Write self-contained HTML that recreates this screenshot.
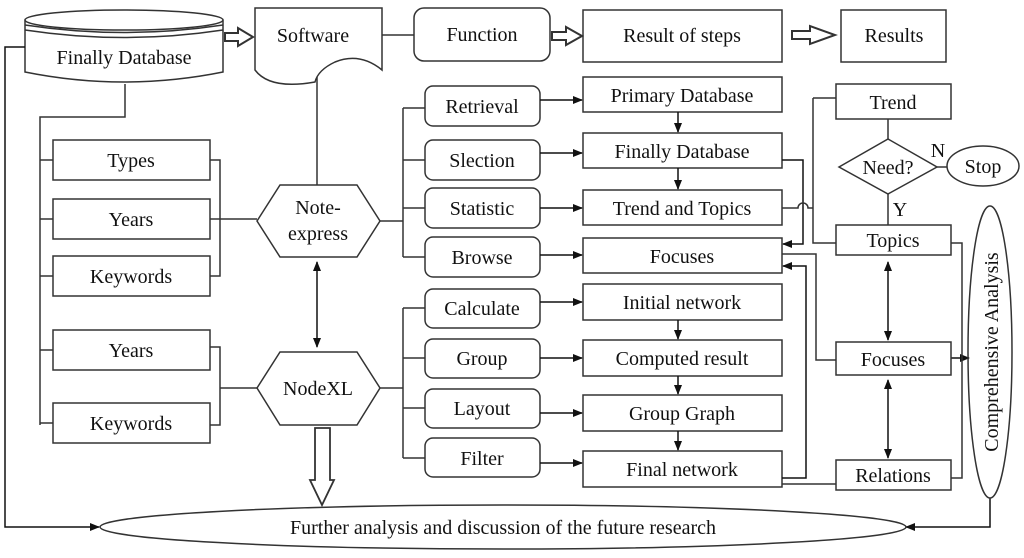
<!DOCTYPE html>
<html><head><meta charset="utf-8"><style>
html,body{margin:0;padding:0;background:#fff;}
svg{display:block;}
text{font-family:"Liberation Serif",serif;font-size:20px;fill:#111;}
</style></head><body>
<svg width="1024" height="558" viewBox="0 0 1024 558" xmlns="http://www.w3.org/2000/svg">
<defs>
<marker id="a" markerWidth="10" markerHeight="8" refX="9" refY="4" orient="auto" markerUnits="userSpaceOnUse"><path d="M0,0 L10,4 L0,8 z" fill="#111"/></marker>
<marker id="as" markerWidth="10" markerHeight="8" refX="1" refY="4" orient="auto" markerUnits="userSpaceOnUse"><path d="M10,0 L0,4 L10,8 z" fill="#111"/></marker>
</defs>
<g fill="none" stroke="#333" stroke-width="1.5">
<path d="M25,20 L25,72 Q124,92 223,72 L223,20"/>
<ellipse cx="124" cy="20" rx="99" ry="10" fill="#fff"/>
<path d="M25,25 Q124,40 223,25 M25,30 Q124,45 223,30"/>
<path d="M255,8 L382,8 L382,70 Q360,52 335,62 Q318,70 315,82 Q270,90 255,70 Z"/>
<rect x="414" y="8" width="136" height="53" rx="10"/>
<rect x="583" y="10" width="199" height="52"/>
<rect x="841" y="10" width="105" height="52"/>
<path d="M225,33 L238,33 L238,28 L253,37 L238,46 L238,41 L225,41 Z" stroke-width="2"/>
<path d="M552,32 L566,32 L566,27 L582,36 L566,45 L566,40 L552,40 Z" stroke-width="2"/>
<path d="M792,31 L810,31 L810,26 L835,35 L810,44 L810,39 L792,39 Z" stroke-width="2"/>
<line x1="382" y1="35" x2="414" y2="35"/>
<path d="M125,84 L125,117 L40,117 L40,425"/>
<rect x="53" y="140" width="157" height="40"/>
<rect x="53" y="199" width="157" height="40"/>
<rect x="53" y="256" width="157" height="40"/>
<rect x="53" y="330" width="157" height="40"/>
<rect x="53" y="403" width="157" height="40"/>
<path d="M40,160 L53,160 M40,219 L53,219 M40,276 L53,276 M40,350 L53,350 M40,423 L53,423"/>
<path d="M210,160 L220,160 L220,276 L210,276 M210,219 L257,219"/>
<path d="M210,347 L220,347 L220,425 L210,425 M220,388 L257,388"/>
<polygon points="257,221 280,185 357,185 380,221 357,257 280,257"/>
<polygon points="257,388 280,352 357,352 380,388 357,425 280,425"/>
<line x1="317" y1="77" x2="317" y2="185"/>
<line x1="317" y1="262" x2="317" y2="347" marker-start="url(#as)" marker-end="url(#a)" stroke="#111"/>
<path d="M315,428 L330,428 L330,480 L334,480 L322,505 L310,480 L315,480 Z" stroke-width="1.8"/>
<path d="M380,221 L403,221 M403,108 L403,257 M403,108 L425,108 M403,160 L425,160 M403,208 L425,208 M403,257 L425,257"/>
<path d="M380,388 L403,388 M403,308 L403,458 M403,308 L425,308 M403,358 L425,358 M403,408 L425,408 M403,458 L425,458"/>
<rect x="425" y="86" width="115" height="40" rx="8"/>
<rect x="425" y="140" width="115" height="40" rx="8"/>
<rect x="425" y="188" width="115" height="40" rx="8"/>
<rect x="425" y="237" width="115" height="40" rx="8"/>
<rect x="425" y="289" width="115" height="39" rx="8"/>
<rect x="425" y="339" width="115" height="39" rx="8"/>
<rect x="425" y="389" width="115" height="39" rx="8"/>
<rect x="425" y="438" width="115" height="39" rx="8"/>
<rect x="583" y="77" width="199" height="35"/>
<rect x="583" y="133" width="199" height="35"/>
<rect x="583" y="190" width="199" height="35"/>
<rect x="583" y="238" width="199" height="35"/>
<rect x="583" y="284" width="199" height="36"/>
<rect x="583" y="340" width="199" height="36"/>
<rect x="583" y="395" width="199" height="36"/>
<rect x="583" y="451" width="199" height="36"/>
</g>
<g stroke="#111" stroke-width="1.5" fill="none" marker-end="url(#a)">
<line x1="540" y1="100" x2="582" y2="100"/>
<line x1="540" y1="153" x2="582" y2="153"/>
<line x1="540" y1="208" x2="582" y2="208"/>
<line x1="540" y1="255" x2="582" y2="255"/>
<line x1="540" y1="302" x2="582" y2="302"/>
<line x1="540" y1="358" x2="582" y2="358"/>
<line x1="540" y1="413" x2="582" y2="413"/>
<line x1="540" y1="463" x2="582" y2="463"/>
<line x1="678" y1="112" x2="678" y2="132"/>
<line x1="678" y1="168" x2="678" y2="189"/>
<line x1="678" y1="320" x2="678" y2="339"/>
<line x1="678" y1="376" x2="678" y2="394"/>
<line x1="678" y1="431" x2="678" y2="450"/>
<path d="M782,160 L803,160 L803,244 L783,244"/>
<path d="M782,478 L806,478 L806,266 L783,266"/>
<line x1="888" y1="262" x2="888" y2="340" marker-start="url(#as)"/>
<line x1="888" y1="380" x2="888" y2="458" marker-start="url(#as)"/>
<path d="M951,358 L969,358"/>
<path d="M25,47 L5,47 L5,527 L99,527"/>
<path d="M990,498 L990,527 L906,527"/>
</g>
<g stroke="#333" stroke-width="1.5" fill="none">
<path d="M782,208 L798,208 A5,5 0 0 1 808,208 L813,208"/>
<path d="M813,98 L813,243 L836,243 M813,98 L836,98"/>
<path d="M782,254 L816,254 L816,360 L836,360"/>
<path d="M782,484 L836,484"/>
<rect x="836" y="84" width="115" height="35"/>
<polygon points="839,167 888,139 937,167 888,194"/>
<ellipse cx="983" cy="166" rx="36" ry="20"/>
<rect x="836" y="225" width="115" height="30"/>
<rect x="836" y="342" width="115" height="33"/>
<rect x="836" y="460" width="115" height="30"/>
<path d="M888,119 L888,139 M888,194 L888,225 M937,167 L947,167"/>
<path d="M951,243 L962,243 L962,478 L951,478"/>
<ellipse cx="990" cy="352" rx="22" ry="146"/>
<ellipse cx="503" cy="527" rx="403" ry="22"/>
</g>
<g text-anchor="middle">
<text x="124" y="64">Finally Database</text>
<text x="313" y="42">Software</text>
<text x="482" y="41">Function</text>
<text x="682" y="42">Result of steps</text>
<text x="894" y="42">Results</text>
<text x="131" y="167">Types</text>
<text x="131" y="226">Years</text>
<text x="131" y="283">Keywords</text>
<text x="131" y="357">Years</text>
<text x="131" y="430">Keywords</text>
<text x="318" y="214">Note-</text>
<text x="318" y="240">express</text>
<text x="318" y="395">NodeXL</text>
<text x="482" y="113">Retrieval</text>
<text x="482" y="167">Slection</text>
<text x="482" y="215">Statistic</text>
<text x="482" y="264">Browse</text>
<text x="482" y="315">Calculate</text>
<text x="482" y="365">Group</text>
<text x="482" y="415">Layout</text>
<text x="482" y="465">Filter</text>
<text x="682" y="102">Primary Database</text>
<text x="682" y="158">Finally Database</text>
<text x="682" y="215">Trend and Topics</text>
<text x="682" y="263">Focuses</text>
<text x="682" y="309">Initial network</text>
<text x="682" y="365">Computed result</text>
<text x="682" y="420">Group Graph</text>
<text x="682" y="476">Final network</text>
<text x="893" y="109">Trend</text>
<text x="888" y="174">Need?</text>
<text x="983" y="173">Stop</text>
<text x="938" y="157">N</text>
<text x="900" y="216">Y</text>
<text x="893" y="247">Topics</text>
<text x="893" y="366">Focuses</text>
<text x="893" y="482">Relations</text>
<text x="503" y="534">Further analysis and discussion of the future research</text>
<text x="0" y="0" transform="translate(998,352) rotate(-90)">Comprehensive Analysis</text>
</g>
</svg>
</body></html>
